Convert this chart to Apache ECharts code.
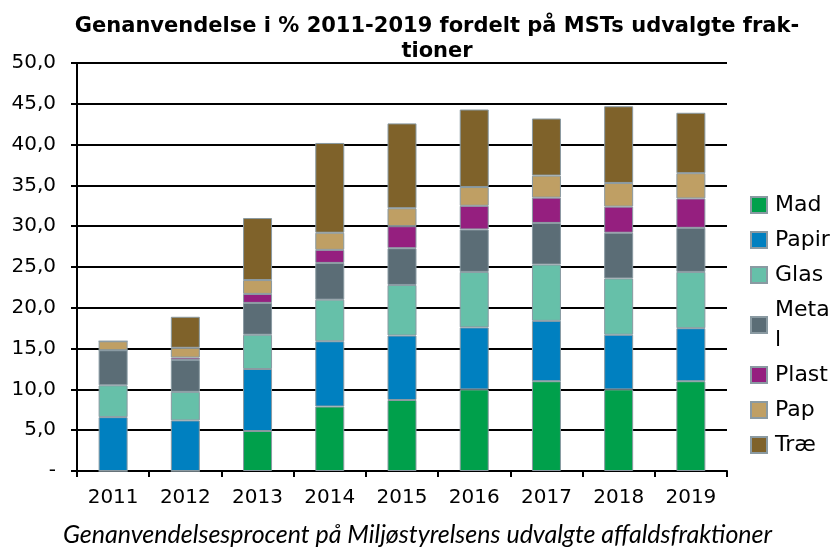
<!DOCTYPE html>
<html>
<head>
<meta charset="utf-8">
<script src="https://cdn.jsdelivr.net/npm/echarts@6/dist/echarts.min.js"></script>
<style>
    html, body { margin: 0; padding: 0; background: #fff; }
    #main { width: 835px; height: 556px; }
</style>
</head>
<body>
<div id="main"></div>
<script>
var years = ['2011', '2012', '2013', '2014', '2015', '2016', '2017', '2018', '2019'];
var mad =   [0,   0,   4.9, 7.9,  8.7,  10.0, 11.0, 10.0, 11.0];
var papir = [6.6, 6.2, 7.6, 8.0,  7.9,  7.6,  7.4,  6.7,  6.5];
var glas =  [3.9, 3.5, 4.2, 5.1,  6.2,  6.8,  6.9,  6.9,  6.9];
var metal = [4.3, 3.9, 3.9, 4.5,  4.5,  5.2,  5.1,  5.6,  5.4];
var plast = [0,   0.3, 1.1, 1.6,  2.7,  2.9,  3.1,  3.2,  3.6];
var pap =   [1.1, 1.2, 1.7, 2.1,  2.2,  2.3,  2.7,  2.9,  3.1];
var trae =  [0,   3.8, 7.6, 11.0, 10.4, 9.5,  7.0,  9.4,  7.4];

var names = ['Mad', 'Papir', 'Glas', 'Metal', 'Plast', 'Pap', 'Træ'];
var colors = ['#00a04b', '#0080c0', '#66c0a9', '#5b6d76', '#951f7f', '#bf9f64', '#7f622a'];
var values = [mad, papir, glas, metal, plast, pap, trae];

var chart = echarts.init(document.getElementById('main'));

var series = names.map(function (name, i) {
    return {
        name: name,
        type: 'bar',
        stack: 'total',
        barWidth: 29,
        data: values[i],
        itemStyle: {
            color: colors[i],
            borderColor: '#8a9aa2',
            borderWidth: 1
        }
    };
});

chart.setOption({
    animation: false,
    color: colors,
    title: {
        text: 'Genanvendelse i % 2011-2019 fordelt på MSTs udvalgte frak-\ntioner',
        left: 432,
        top: 9,
        textAlign: 'center',
        textStyle: {
            fontFamily: 'DejaVu Sans',
            fontWeight: 'bold',
            fontSize: 21,
            lineHeight: 25,
            color: '#000'
        }
    },
    legend: {
        orient: 'vertical',
        left: 750,
        top: 190,
        padding: 0,
        itemWidth: 16,
        itemHeight: 16,
        itemGap: 5,
        icon: 'rect',
        formatter: function (name) {
            return name === 'Metal' ? 'Meta\nl' : name;
        },
        textStyle: {
            fontFamily: 'DejaVu Sans',
            fontSize: 22,
            lineHeight: 30,
            color: '#000',
            padding: [0, 0, 0, 3]
        }
    },
    grid: {
        left: 77,
        right: 108,
        top: 63,
        bottom: 85
    },
    xAxis: {
        type: 'category',
        data: years,
        axisLine: { lineStyle: { color: '#000', width: 2 } },
        axisTick: { show: true, length: 6, lineStyle: { color: '#000', width: 2 } },
        axisLabel: {
            margin: 17,
            fontFamily: 'DejaVu Sans',
            fontSize: 20,
            color: '#000'
        }
    },
    yAxis: {
        type: 'value',
        min: 0,
        max: 50,
        interval: 5,
        axisLine: { show: true, lineStyle: { color: '#000', width: 2 } },
        axisTick: { show: true, length: 6, lineStyle: { color: '#000', width: 2 } },
        splitLine: { lineStyle: { color: '#000', width: 2 } },
        axisLabel: {
            margin: 21,
            fontFamily: 'DejaVu Sans',
            fontSize: 20,
            color: '#000',
            formatter: function (v) {
                return v === 0 ? '-' : v.toFixed(1).replace('.', ',');
            }
        }
    },
    graphic: [{
        type: 'text',
        left: 'center',
        top: 522,
        style: {
            text: 'Genanvendelsesprocent på Miljøstyrelsens udvalgte affaldsfraktioner',
            font: 'italic 25px Lato',
            fill: '#000'
        }
    }],
    series: series
});
</script>
</body>
</html>
